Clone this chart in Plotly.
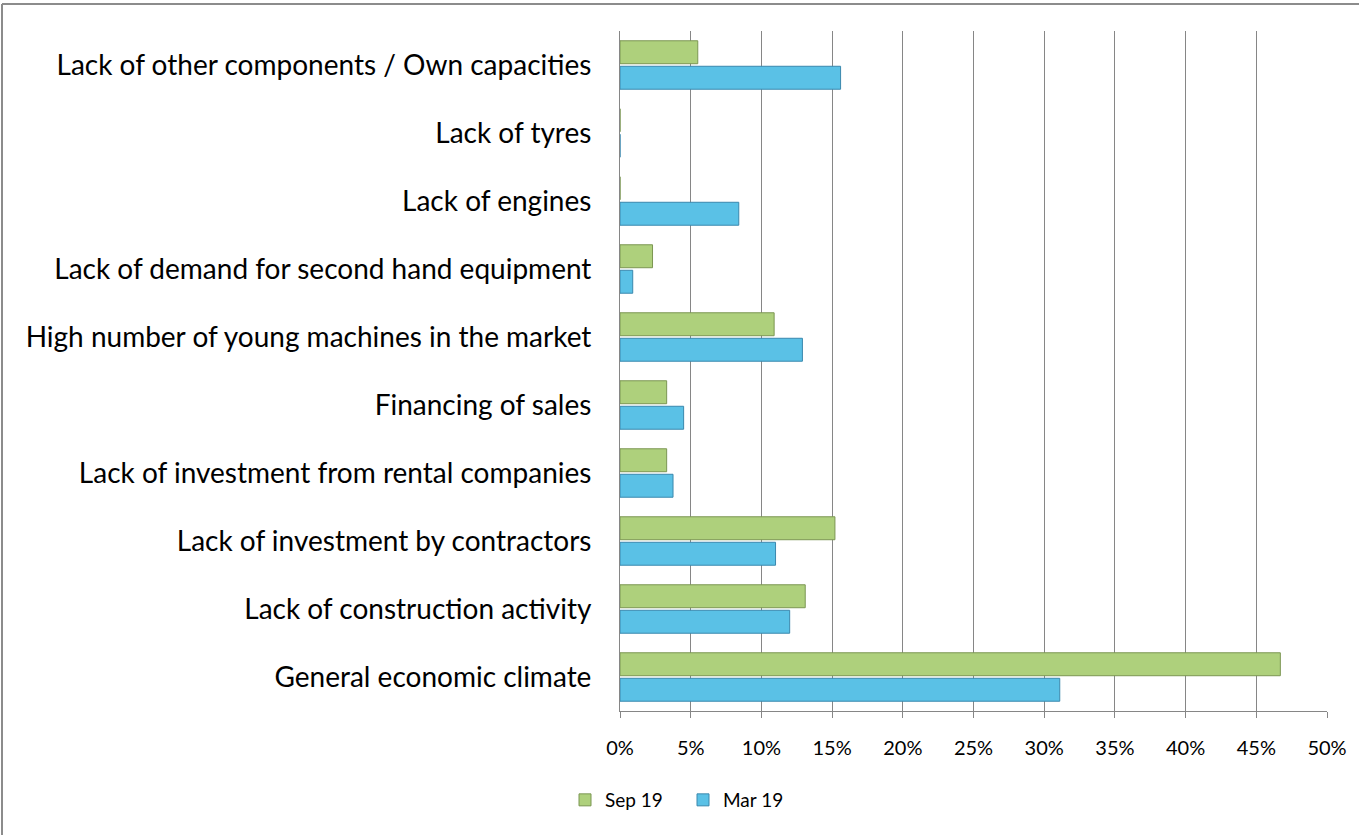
import plotly.graph_objects as go

# Reasons for weak demand, listed bottom to top as they appear on the axis
categories = [
    "General economic climate",
    "Lack of construction activity",
    "Lack of investment by contractors",
    "Lack of investment from rental companies",
    "Financing of sales",
    "High number of young machines in the market",
    "Lack of demand for second hand equipment",
    "Lack of engines",
    "Lack of tyres",
    "Lack of other components / Own capacities",
]
# Share of answers (%)
mar19 = [31.1, 12.0, 11.0, 3.75, 4.5, 12.9, 0.9, 8.4, 0.0, 15.6]
sep19 = [46.7, 13.1, 15.2, 3.3, 3.3, 10.9, 2.3, 0.0, 0.0, 5.5]
x_ticks = [0, 5, 10, 15, 20, 25, 30, 35, 40, 45, 50]
x_tick_text = [f"{v}%" for v in x_ticks]

W, H = 1359, 835
ML, MR, MT, MB = 620, 32, 31, 124
PW, PH = W - ML - MR, H - MT - MB

fig = go.Figure()
fig.add_trace(go.Bar(
    y=categories, x=mar19, orientation="h", name="Mar 19",
    marker=dict(color="#5ac1e6", line=dict(color="#3a88ad", width=1)),
))
fig.add_trace(go.Bar(
    y=categories, x=sep19, orientation="h", name="Sep 19",
    marker=dict(color="#aed07c", line=dict(color="#7b9652", width=1)),
))

# outer frame (top and left edges)
px = lambda p: (p - ML) / PW
py = lambda p: 1 - (p - MT) / PH
fig.add_shape(type="line", xref="paper", yref="paper",
              x0=px(2), x1=px(W + 5), y0=py(4), y1=py(4),
              line=dict(color="#8c8c8c", width=2))
fig.add_shape(type="line", xref="paper", yref="paper",
              x0=px(2), x1=px(2), y0=py(4), y1=py(H + 5),
              line=dict(color="#8c8c8c", width=2))

fig.update_layout(
    width=W, height=H,
    margin=dict(l=ML, r=MR, t=MT, b=MB),
    paper_bgcolor="white", plot_bgcolor="white",
    barmode="group", bargap=0.25, bargroupgap=0.1,
    font=dict(family="Lato, Carlito, Calibri, sans-serif", color="#000000"),
    showlegend=True,
    legend=dict(orientation="h", traceorder="reversed",
                x=px(565), xanchor="left", y=py(800), yanchor="middle",
                font=dict(size=19), itemwidth=30,
                entrywidth=73, entrywidthmode="pixels"),
    xaxis=dict(
        range=[0, 50], tickvals=x_ticks, ticktext=x_tick_text,
        showgrid=True, gridcolor="#868686", gridwidth=1,
        zeroline=False, showline=True, linecolor="#868686", linewidth=1,
        ticks="outside", ticklen=6, tickcolor="#868686",
        tickfont=dict(size=20), ticklabelstandoff=13,
    ),
    yaxis=dict(
        showline=True, linecolor="#868686", linewidth=1,
        showgrid=False, zeroline=False,
        tickfont=dict(size=28), ticklabelstandoff=22,
    ),
)

fig.write_html("out.html")
